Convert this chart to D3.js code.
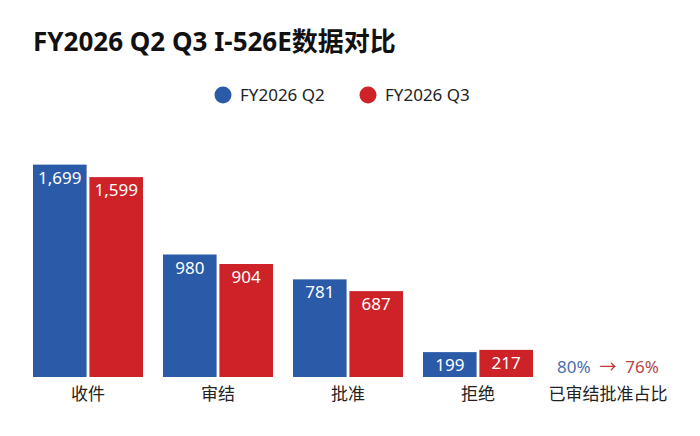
<!DOCTYPE html>
<html>
<head>
<meta charset="utf-8">
<script src="https://cdn.jsdelivr.net/npm/d3@7"></script>
<style>
  body { margin: 0; background: #fff; }
  text { font-family: "Noto Sans", "Noto Sans CJK SC", sans-serif; }
</style>
</head>
<body>
<div id="chart"></div>
<script>
var categories = ["收件", "审结", "批准", "拒绝", "已审结批准占比"];
var seriesNames = ["FY2026 Q2", "FY2026 Q3"];
var q2Values = [1699, 980, 781, 199];
var q3Values = [1599, 904, 687, 217];
var ratioLabels = ["80%", "76%"];

function init() {
    var w = 700;
    var h = 436;
    var colors = ["#2a5aa8", "#cc2228"];
    var fmt = d3.format(",");

    var svg = d3.select("#chart")
        .append("svg")
        .attr("width", w)
        .attr("height", h);

    // title
    svg.append("text")
        .attr("x", 33)
        .attr("y", 51)
        .attr("font-size", 26)
        .attr("font-weight", "bold")
        .attr("fill", "#111")
        .text("FY2026 Q2 Q3 I-526E数据对比");

    // legend
    var legendX = [223, 368];
    var legend = svg.selectAll(".legend")
        .data(seriesNames)
        .enter().append("g")
        .attr("class", "legend")
        .attr("transform", function(d, i) { return "translate(" + legendX[i] + ",95)"; });
    legend.append("circle")
        .attr("r", 8.5)
        .attr("fill", function(d, i) { return colors[i]; });
    legend.append("text")
        .attr("x", 17)
        .attr("y", 6)
        .attr("font-size", 17)
        .attr("fill", "#222")
        .text(function(d) { return d; });

    // scales
    var xScale = d3.scaleBand()
        .domain(categories)
        .range([23, 673]);

    var yScale = d3.scaleLinear()
        .domain([0, 2000])
        .range([377, 127]);

    var inner = d3.scaleBand()
        .domain(seriesNames)
        .range([0, 110])
        .paddingInner(0.05);

    var rows = [];
    q2Values.forEach(function(v, i) {
        rows.push({ cat: categories[i], s: seriesNames[0], v: v, c: 0 });
        rows.push({ cat: categories[i], s: seriesNames[1], v: q3Values[i], c: 1 });
    });

    var offset = (xScale.bandwidth() - 110) / 2;

    svg.selectAll(".bar")
        .data(rows)
        .enter().append("rect")
        .attr("class", "bar")
        .attr("x", function(d) { return xScale(d.cat) + offset + inner(d.s); })
        .attr("y", function(d) { return yScale(d.v); })
        .attr("width", inner.bandwidth())
        .attr("height", function(d) { return yScale(0) - yScale(d.v); })
        .attr("fill", function(d) { return colors[d.c]; });

    svg.selectAll(".val")
        .data(rows)
        .enter().append("text")
        .attr("class", "val")
        .attr("x", function(d) { return xScale(d.cat) + offset + inner(d.s) + inner.bandwidth() / 2; })
        .attr("y", function(d) { return yScale(d.v) + 19; })
        .attr("text-anchor", "middle")
        .attr("font-size", 17)
        .attr("fill", "#fff")
        .text(function(d) { return fmt(d.v); });

    // category labels
    svg.selectAll(".cat")
        .data(categories)
        .enter().append("text")
        .attr("class", "cat")
        .attr("x", function(d) { return xScale(d) + xScale.bandwidth() / 2; })
        .attr("y", 400)
        .attr("text-anchor", "middle")
        .attr("font-size", 17)
        .attr("fill", "#222")
        .style("font-family", "'Noto Sans CJK SC', sans-serif")
        .text(function(d) { return d; });

    // ratio annotation
    var rc = xScale(categories[4]) + xScale.bandwidth() / 2;
    var ratio = svg.append("text")
        .attr("x", rc)
        .attr("y", 373)
        .attr("text-anchor", "middle")
        .attr("font-size", 17)
        .attr("xml:space", "preserve");
    ratio.append("tspan").attr("fill", "#4a6ea8").text(ratioLabels[0]);
    ratio.append("tspan").attr("fill", "#c0363c").text("  →  ");
    ratio.append("tspan").attr("fill", "#b5474c").text(ratioLabels[1]);
}
window.onload = init;
</script>
</body>
</html>
